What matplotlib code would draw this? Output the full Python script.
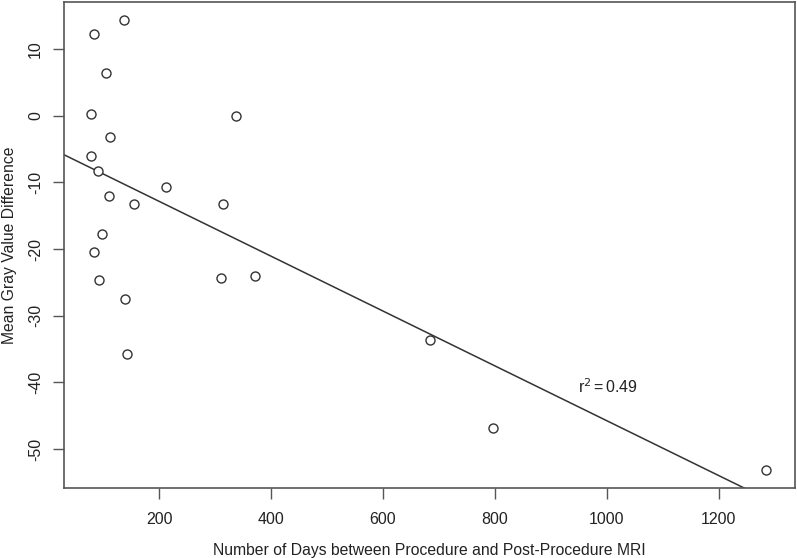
import matplotlib
matplotlib.use("Agg")
import matplotlib.pyplot as plt
import numpy as np

plt.rcParams['font.family'] = ['Liberation Sans', 'DejaVu Sans']

days = [138, 83, 105, 79, 338, 112, 78, 90, 110, 212, 155, 314, 98, 83,
        92, 310, 371, 139, 142, 684, 797, 1285]
gray_diff = [14.4, 12.2, 6.4, 0.3, 0.0, -3.2, -6.0, -8.3, -12.1, -10.7, -13.3,
             -13.2, -17.8, -20.4, -24.7, -24.3, -24.0, -27.5, -35.8, -33.7,
             -46.8, -53.2]
fit_intercept = -4.62
fit_slope = -0.04115
r2_label = "0.49"
xticks = [200, 400, 600, 800, 1000, 1200]
yticks = [10, 0, -10, -20, -30, -40, -50]

fig = plt.figure(figsize=(7.97, 5.58), dpi=100)
ax = fig.add_axes([0.0803, 0.1249, 0.9172, 0.872])
ax.set_xlim(30, 1336)
ax.set_ylim(-55.9, 17.1)

ax.plot(days, gray_diff, linestyle='none', marker='o', markersize=6.5,
        markerfacecolor='white', markeredgecolor='#333333', markeredgewidth=1.0,
        zorder=3)

xl = np.array(ax.get_xlim())
ax.plot(xl, fit_intercept + fit_slope * xl, color='#333333', linewidth=1.1,
        zorder=2)

ax.text(948, -40.6, r"r$^2$$\,$=$\,$" + r2_label, fontsize=11.5, color='#222222',
        ha='left', va='center')

for s in ax.spines.values():
    s.set_color('#555555')
    s.set_linewidth(1.2)

ax.set_xticks(xticks)
ax.set_yticks(yticks)
ax.set_yticklabels([str(v) for v in yticks], rotation=90, va='center')
ax.tick_params(axis='both', direction='out', length=8, width=1,
               color='#555555', labelsize=11.5, labelcolor='#222222')
ax.tick_params(axis='x', pad=9)
ax.tick_params(axis='y', pad=7)

ax.set_xlabel("Number of Days between Procedure and Post-Procedure MRI",
              fontsize=11.3, color='#222222')
ax.set_ylabel("Mean Gray Value Difference", fontsize=11.3, color='#222222')
ax.xaxis.set_label_coords(0.5, -0.127)
ax.yaxis.set_label_coords(-0.0752, 0.5)
ax.xaxis.label.set_va('center')
ax.yaxis.label.set_va('center')

fig.savefig("out.png", dpi=100)
